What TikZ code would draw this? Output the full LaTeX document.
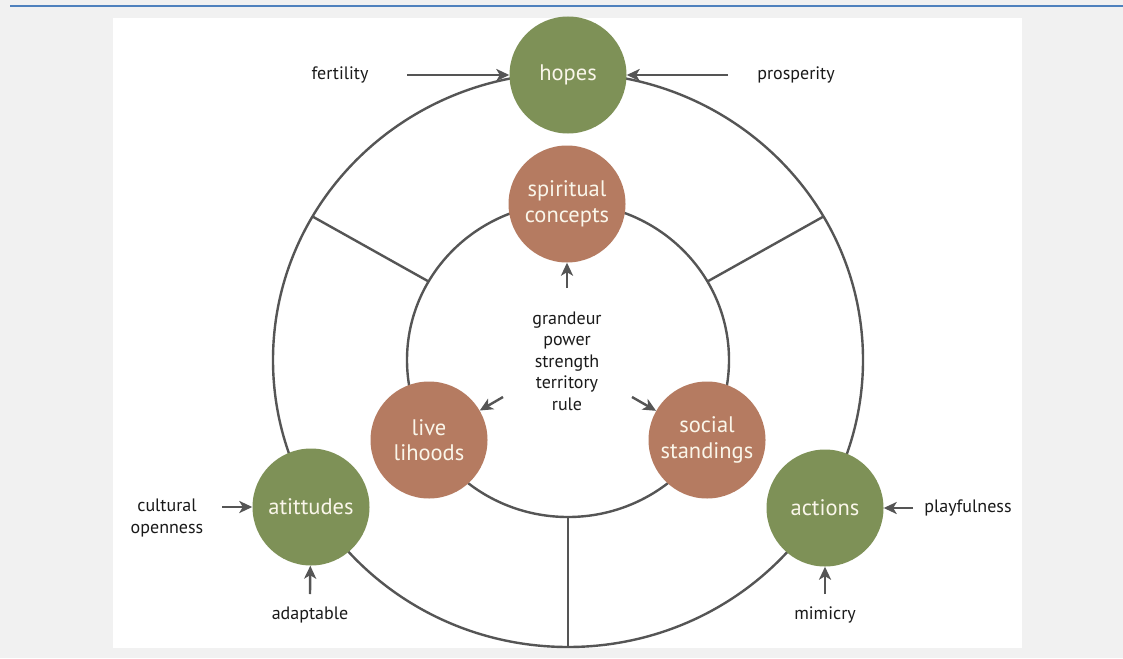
\documentclass[tikz,border=0pt]{standalone}
\usepackage{fontspec}
\setmainfont{PT Sans}
\usetikzlibrary{arrows.meta}
\definecolor{bg}{HTML}{F1F1F1}
\definecolor{rulecol}{HTML}{4F81BD}
\definecolor{olive}{HTML}{7E9157}
\definecolor{terra}{HTML}{B57B61}
\definecolor{ln}{HTML}{555555}
\definecolor{cream}{HTML}{FAF6EA}
\definecolor{txt}{HTML}{1A1A1A}
\begin{document}
\begin{tikzpicture}[x=1pt,y=-1pt,
  ring/.style={draw=ln, line width=2.4pt},
  bub/.style={circle, minimum size=117pt, inner sep=0pt, text=cream, align=center, font=\fontsize{22.5}{25.5}\selectfont},
  gbub/.style={bub, fill=olive},
  bbub/.style={bub, fill=terra},
  lbl/.style={font=\fontsize{18}{21.5}\selectfont, text=txt, align=center, inner sep=0pt},
  arr/.style={draw=ln, line width=2.4pt, -{Stealth[length=13pt,width=12pt,inset=3.5pt]}}]
% page and panel
\fill[bg] (0,0) rectangle (1123,658);
\useasboundingbox (0,0) rectangle (1123,658);
\fill[rulecol] (10,5) rectangle (1123,7.5);
\fill[white] (113,18) rectangle (1022,648);
% rings and spokes
\coordinate (c) at (568,360);
\coordinate (o150) at (312.5,216.5);
\coordinate (o30) at (823.5,216.5);
\coordinate (o270) at (568,647);
\coordinate (i150) at (428.6,281.5);
\coordinate (i30) at (707.4,281.5);
\coordinate (i270) at (568,517);
\draw[ring] (c) ellipse [x radius=295pt, y radius=287pt];
\draw[ring] (c) ellipse [x radius=161pt, y radius=157pt];
\draw[ring] (o150) -- (i150);
\draw[ring] (o30) -- (i30);
\draw[ring] (o270) -- (i270);
% bubbles
\node[gbub] (hopes) at (568,75) {hopes};
\node[bbub] (spirit) at (567,204) {spiritual\\concepts};
\node[bbub] (live) at (429,440) {live\\lihoods};
\node[bbub] (social) at (707,440) {social\\standings};
\node[gbub] (atti) at (311,507) {atittudes};
\node[gbub] (actions) at (825,508) {actions};
% outer labels
\node[lbl] (fert) at (340,75) {fertility};
\node[lbl] (prosp) at (796,75) {prosperity};
\node[lbl] (cult) at (167,518) {cultural\\openness};
\node[lbl] (adapt) at (310,615) {adaptable};
\node[lbl] (play) at (968,508) {playfulness};
\node[lbl] (mimic) at (825,615) {mimicry};
\node[lbl] (core) at (567,361) {grandeur\\power\\strength\\territory\\rule};
% arrow tails
\coordinate (tfert) at (407,75);
\coordinate (tprosp) at (728,75);
\coordinate (tcult) at (222,507);
\coordinate (tadapt) at (310,594);
\coordinate (tplay) at (913,508);
\coordinate (tmimic) at (825,594);
\coordinate (tspirit) at (567,288);
\coordinate (tlive) at (503,397);
\coordinate (tsocial) at (632,397);
% arrows
\draw[arr] (tfert) -- (hopes);
\draw[arr] (tprosp) -- (hopes);
\draw[arr] (tcult) -- (atti);
\draw[arr] (tadapt) -- (atti);
\draw[arr] (tplay) -- (actions);
\draw[arr] (tmimic) -- (actions);
\draw[arr] (tspirit) -- (spirit);
\draw[arr] (tlive) -- (live);
\draw[arr] (tsocial) -- (social);
\end{tikzpicture}
\end{document}
